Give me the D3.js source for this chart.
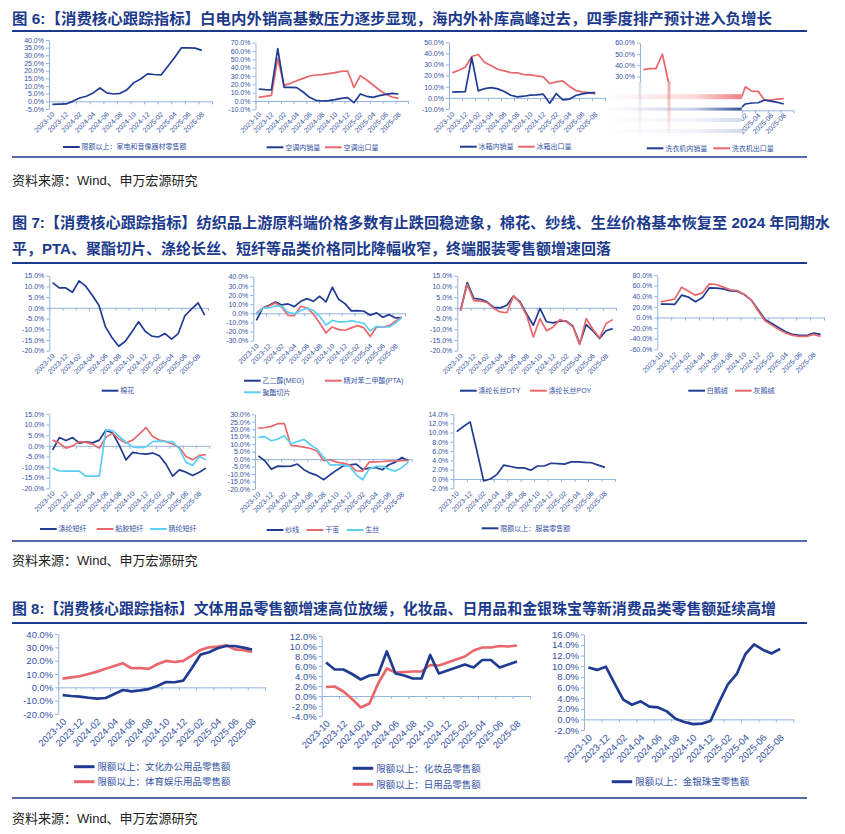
<!DOCTYPE html>
<html><head><meta charset="utf-8">
<script src="https://cdn.jsdelivr.net/npm/d3@7"></script>
<style>
body{margin:0;background:#fff}
text{font-family:"Liberation Sans",Arial,"Noto Sans CJK SC",sans-serif}
</style>
</head><body>
<svg id="c" width="845" height="834"></svg>
<script>
// ---------- categories ----------
const months = ["2023-10","2023-11","2023-12","2024-01","2024-02","2024-03","2024-04","2024-05","2024-06","2024-07","2024-08","2024-09","2024-10","2024-11","2024-12","2025-01","2025-02","2025-03","2025-04","2025-05","2025-06","2025-07","2025-08","2025-09"];

// ---------- Figure 6 ----------
const appliance = [-2.0,-1.8,-1.7,0.0,2.2,3.3,5.5,8.7,5.5,4.8,5.2,7.6,12.2,14.6,17.9,17.5,17.2,22.9,28.6,34.9,34.9,34.7,33.2];
const acDomestic = [14.4,13.6,13.2,63,16.4,16.4,16,10.8,4.4,0.8,0,0.4,1.6,3.2,4,-2,8.4,5.6,4.4,6.4,8,9.2,8.4];
const acExport = [4.4,5.6,6.8,51,18.8,21.2,24.4,27.2,30,31.2,31.6,32.8,34,35.6,36,16.4,30.4,25.2,19.2,13.2,8,4.8,3.2];
const fridgeDomestic = [5.1,5.4,5.7,36.3,6.3,8.4,9.3,8.1,5.7,2.4,0.9,1.5,2.4,2.7,3.3,-4.8,3.9,-1.8,-1.2,2.1,3.6,4.5,4.8];
const fridgeExport = [22.5,24.9,27.6,37.2,39,31.8,28.8,25.8,24.3,22.8,22.5,21,20.7,19.8,18.9,12.9,14.4,15.3,10.5,6.6,5.4,4.8,3.6];
const washerDomestic = [8,6,5,18,4,6,8,7,5,3,2,4,6,5,4,0.5,5.6,6.5,6.7,9.1,8.2,7.1,5.6];
const washerExport = [36,37,37,50,24,14,18,16,12,15,20,18,14,16,12,5.6,20.9,17,16.8,9.1,9.1,10,10.3];

// ---------- Figure 7 ----------
const cotton = [11.8,9.3,9.3,7.3,12.6,10.1,5.9,1.2,-8.9,-14,-17.9,-15.6,-11.2,-6.5,-10.9,-13.2,-13.6,-12,-14.6,-12,-3.7,-0.6,2.3,-3.4];
const meg = [-7.7,5.8,8.8,12.4,9.1,10.2,7.3,13.1,16,13.1,18.6,12.4,28.5,15.3,10.6,2.6,2.9,2.2,-2.2,0.4,-4.4,-1.5,-5.1,-4.7];
const pta = [0,5.8,8,11.3,6.6,-2.2,-2.6,7.7,5.8,-0.7,-10.6,-21.5,-15,-17.9,-18.6,-16,-13.5,-16,-25.5,-15,-15,-13.5,-8.8,-4.4];
const polyChip = [-1.5,5.5,5.8,8,7.7,1.1,-0.7,2.9,5.5,3.3,-3.3,-12.8,-7.7,-9.5,-9.5,-8,-9.5,-10.9,-19.3,-14.2,-15,-15,-10.6,-4.7];
const dty = [-1.1,11.8,4.4,4,2.8,0.2,0,1.2,5.5,2.8,-3,-8.1,-0.3,-6.5,-7,-6.2,-6.2,-8.6,-16.7,-7.8,-10.7,-14.3,-10.7,-9.7];
const poy = [-1.4,10.9,3.4,3.1,2.5,-0.3,-1.9,-2.3,5.6,2.3,-3.7,-13.6,-5,-10.7,-8.9,-5.5,-6.5,-8.9,-17.1,-5,-10,-14,-7.3,-5.5];
const whiteDown = [25.1,25.1,24.5,42,38.2,29.5,37.6,55.8,55.2,53.9,50.2,49.5,43.3,33.2,15,-3.8,-11.3,-19.4,-27,-32,-33.9,-33.9,-29.5,-32];
const greyDown = [29.5,32,34.5,57.1,49.5,42,46.4,63.3,62.1,57.1,52,50.8,43.9,33.2,12.5,-6.3,-14.4,-22.6,-29.5,-33.9,-35.7,-35.7,-32,-35.7];
const psf = [-1.9,3.9,2.5,3.9,1.3,1.9,1.4,2.7,7.5,6,0.2,-6.6,-3.1,-3.6,-3.9,-3.4,-4.7,-8.6,-14.3,-11.3,-12.4,-14,-12.4,-10.5];
const viscose = [2.7,1.3,-1.1,0,2,1.6,0.8,-1.1,4.1,6,3.1,1.3,2.7,5.5,8.6,4.4,2.7,2,0.9,-0.8,-5,-6.6,-4.5,-4.2];
const acrylic = [-10.5,-11.8,-11.9,-11.9,-11.9,-14.3,-14.3,-14.3,7.5,7.2,4.4,1.7,-0.5,-0.8,-0.5,2,2.2,2,2,-1.4,-7.7,-9.2,-5,-6.6];
const yarn = [2.2,-1.1,-6.7,-4.7,-4.9,-4.7,-3.3,-7.1,-9.4,-10.9,-13.8,-10.5,-7.4,-4.5,-3.8,-3.3,-6.9,-6,-5.6,-7.1,-3.8,-2,1.1,-1.1];
const cocoon = [20.8,21,21.9,23.7,23.7,9.2,8.7,8,7.1,5.4,-1.1,-0.4,-2,-2.7,-3.8,-7.8,-8,-2,-1.8,-1.6,-1.3,-1.1,-1.1,-0.9];
const rawSilk = [14.5,15,12.3,13.4,15.6,10.3,11.8,13.2,9.6,6.7,1.3,-3.8,-3.8,-3.8,-4.9,-10.5,-13.8,-6.5,-4.9,-4.9,-6.7,-8,-5.6,-2];
const apparel = [10.2,11.3,12.3,6.1,-0.4,0,1,3,2.7,2.4,2.4,1.9,2.8,2.8,3.4,3.3,3.2,3.7,3.7,3.6,3.5,3,2.5];

// ---------- Figure 8 ----------
const office = [-5.8,-6.5,-7,-7.8,-8.5,-8,-5,-2,-3,-2.3,-1.3,1,4,3.8,5,14.3,24.5,26.3,29.3,31,31,29.8,28.3];
const sports = [6.5,7.5,8.3,10,11.8,14,16,18,14.3,14.5,13.8,17.3,19.8,19,19.8,23.8,28,30,30.5,31.5,28.5,27.8,26.5];
const cosmetics = [6.7,5.3,5.3,4.4,3.3,4.1,4.3,8.9,4.5,4.1,3.5,3.5,8.2,4.5,5.1,5.7,6.3,5.7,7.2,7.2,5.7,6.3,6.9];
const daily = [1.8,1.9,0.9,-0.6,-2.3,-1.5,2.5,5.5,4.7,4.8,4.9,4.9,6.2,6.1,6.7,7.3,7.9,9.1,9.7,9.7,10,9.9,10.1];
const jewelry = [9.75,9.3,9.9,6.75,3.7,2.75,3.4,2.4,2.25,1.5,0.1,-0.5,-0.9,-0.8,-0.3,3.25,6.6,8.5,12.25,14.1,13.1,12.4,13.25];

// ---------- titles ----------
const titles = [
  {t:"图 6:【消费核心跟踪指标】白电内外销高基数压力逐步显现，海内外补库高峰过去，四季度排产预计进入负增长", y:24, w:760},
  {t:"图 7:【消费核心跟踪指标】纺织品上游原料端价格多数有止跌回稳迹象，棉花、纱线、生丝价格基本恢复至 2024 年同期水", y:228, w:818},
  {t:"平，PTA、聚酯切片、涤纶长丝、短纤等品类价格同比降幅收窄，终端服装零售额增速回落", y:254, w:599},
  {t:"图 8:【消费核心跟踪指标】文体用品零售额增速高位放缓，化妆品、日用品和金银珠宝等新消费品类零售额延续高增", y:614, w:764}
];
const sourceText = "资料来源：Wind、申万宏源研究";

const NAVY='#1f3c92', RED='#e9676b', CYAN='#5ccff4', AXIS='#93b3e0', TXT='#3352a3', TITLE='#1b3a8c';
const svg = d3.select('#c');

titles.forEach(d=>{
  svg.append('text').attr('x',12).attr('y',d.y).attr('font-size',15).attr('font-weight','bold')
    .attr('fill',TITLE).attr('textLength',d.w).attr('lengthAdjust','spacingAndGlyphs').text(d.t);
});
[31, 263, 623].forEach(y=>svg.append('line').attr('x1',12).attr('x2',807).attr('y1',y).attr('y2',y).attr('stroke',TITLE).attr('stroke-width',2));
[157, 541, 798].forEach(y=>svg.append('line').attr('x1',12).attr('x2',807).attr('y1',y).attr('y2',y).attr('stroke',TITLE).attr('stroke-width',1.6));
[185, 565, 823].forEach(y=>svg.append('text').attr('x',12).attr('y',y).attr('font-size',13).attr('fill','#222').text(sourceText));

const small = {fs:7, lw:1.7, llen:16.7, lgap:1.8, lsw:2, lx:1, ly:4};
const big = {fs:9.5, lw:2.7, llen:20.5, lgap:3, lsw:3, lx:2, ly:6};

const charts = [
  Object.assign({ax:49, ae:212, yd:[-5,40], yr:[109,40], step:5,
    series:[{d:appliance,c:NAVY}], legend:[{x:63,y:147,c:NAVY,t:"限额以上：家电和音像器材零售额"}]}, small),
  Object.assign({ax:255.5, ae:408, yd:[-10,70], yr:[109.3,42.7], step:10,
    series:[{d:acExport,c:RED},{d:acDomestic,c:NAVY}],
    legend:[{x:266.7,y:147.3,c:NAVY,t:"空调内销量"},{x:325,y:147.3,c:RED,t:"空调出口量"}]}, small),
  Object.assign({ax:449, ae:605, yd:[-10,50], yr:[109,42.3], step:10,
    series:[{d:fridgeExport,c:RED},{d:fridgeDomestic,c:NAVY}],
    legend:[{x:460,y:146.7,c:NAVY,t:"冰箱内销量"},{x:518,y:146.7,c:RED,t:"冰箱出口量"}]}, small),
  Object.assign({ax:640, ae:793.3, yd:[0,60], yr:[110.3,42.7], step:10, cover:true,
    series:[{d:washerExport,c:RED},{d:washerDomestic,c:NAVY}],
    legend:[{x:646.7,y:148.3,c:NAVY,t:"洗衣机内销量"},{x:713.3,y:148.3,c:RED,t:"洗衣机出口量"}]}, small),

  Object.assign({ax:49.3, ae:208, yd:[-20,15], yr:[350.7,275.7], step:5,
    series:[{d:cotton,c:NAVY}], legend:[{x:101.7,y:390.7,c:NAVY,t:"棉花"}]}, small),
  Object.assign({ax:253.3, ae:405, yd:[-30,40], yr:[340.7,276.7], step:10,
    series:[{d:meg,c:NAVY},{d:pta,c:RED},{d:polyChip,c:CYAN}],
    legend:[{x:244,y:380.7,c:NAVY,t:"乙二醇(MEG)"},{x:325,y:380.7,c:RED,t:"精对苯二甲酸(PTA)"},{x:244,y:392.3,c:CYAN,t:"聚酯切片"}]}, small),
  Object.assign({ax:457.3, ae:616, yd:[-20,15], yr:[350.7,275.7], step:5,
    series:[{d:dty,c:NAVY},{d:poy,c:RED}],
    legend:[{x:460,y:390.7,c:NAVY,t:"涤纶长丝DTY"},{x:530,y:390.7,c:RED,t:"涤纶长丝POY"}]}, small),
  Object.assign({ax:657.3, ae:824, yd:[-60,80], yr:[349.3,275], step:20,
    series:[{d:whiteDown,c:NAVY},{d:greyDown,c:RED}],
    legend:[{x:688.3,y:390.7,c:NAVY,t:"白鹅绒"},{x:735,y:390.7,c:RED,t:"灰鹅绒"}]}, small),

  Object.assign({ax:49.3, ae:209.3, yd:[-20,15], yr:[488.3,414], step:5,
    series:[{d:psf,c:NAVY},{d:viscose,c:RED},{d:acrylic,c:CYAN}],
    legend:[{x:40,y:529,c:NAVY,t:"涤纶短纤"},{x:96.7,y:529,c:RED,t:"粘胶短纤"},{x:150,y:529,c:CYAN,t:"腈纶短纤"}]}, small),
  Object.assign({ax:255, ae:411.7, yd:[-20,30], yr:[489,414.3], step:5,
    series:[{d:yarn,c:NAVY},{d:cocoon,c:RED},{d:rawSilk,c:CYAN}],
    legend:[{x:266.7,y:530,c:NAVY,t:"纱线"},{x:306.7,y:530,c:RED,t:"干茧"},{x:346.7,y:530,c:CYAN,t:"生丝"}]}, small),
  Object.assign({ax:453.3, ae:615, yd:[-2,14], yr:[488.3,414], step:2,
    series:[{d:apparel,c:NAVY}], legend:[{x:481.7,y:528.3,c:NAVY,t:"限额以上：服装零售额"}]}, small),

  Object.assign({ax:58.3, ae:265, yd:[-20,40], yr:[714,634], step:10,
    series:[{d:sports,c:RED},{d:office,c:NAVY}],
    legend:[{x:74,y:766.7,c:NAVY,t:"限额以上：文化办公用品零售额"},{x:74,y:781.7,c:RED,t:"限额以上：体育娱乐用品零售额"}]}, big),
  Object.assign({ax:321.7, ae:530, yd:[-4,12], yr:[716,636], step:2,
    series:[{d:daily,c:RED},{d:cosmetics,c:NAVY}],
    legend:[{x:352.7,y:768.3,c:NAVY,t:"限额以上：化妆品零售额"},{x:352.7,y:784.3,c:RED,t:"限额以上：日用品零售额"}]}, big),
  Object.assign({ax:584, ae:793.3, yd:[-2,16], yr:[730,634.3], step:2,
    series:[{d:jewelry,c:NAVY}], legend:[{x:611.7,y:781.7,c:NAVY,t:"限额以上：金银珠宝零售额"}]}, big)
];

const defs = svg.append('defs');

function drawChart(cfg){
  const g = svg.append('g');
  const x = d3.scaleLinear().domain([-0.5, months.length-0.5]).range([cfg.ax, cfg.ae]);
  const y = d3.scaleLinear().domain(cfg.yd).range(cfg.yr);
  const ticks = d3.range(cfg.yd[0], cfg.yd[1]+cfg.step/2, cfg.step);
  const ya = g.append('g').attr('transform',`translate(${cfg.ax},0)`)
    .call(d3.axisLeft(y).tickValues(ticks).tickFormat(d=>d.toFixed(1)+'%').tickSize(3).tickSizeOuter(0).tickPadding(2));
  ya.select('.domain').attr('stroke',AXIS);
  ya.selectAll('.tick line').attr('stroke',AXIS);
  ya.selectAll('.tick text').attr('fill',TXT).attr('font-size',cfg.fs).attr('font-family',null);
  const y0 = y(Math.max(cfg.yd[0],0));
  const xa = g.append('g').attr('transform',`translate(0,${y0})`)
    .call(d3.axisBottom(x).tickValues(d3.range(-0.5, months.length, 2)).tickFormat('').tickSize(3).tickSizeOuter(0));
  xa.select('.domain').attr('stroke',AXIS);
  xa.selectAll('.tick line').attr('stroke',AXIS);
  const yb = y(cfg.yd[0]);
  const lab = months.map((m,i)=>({m,i})).filter(d=>d.i%2===0 && d.i<=22);
  g.selectAll('text.xl').data(lab).join('text').attr('class','xl')
    .attr('transform',d=>`translate(${x(d.i)+cfg.lx},${yb+cfg.ly}) rotate(-45)`)
    .attr('text-anchor','end').attr('dy','0.35em').attr('font-size',cfg.fs).attr('fill',TXT).text(d=>d.m);
  const line = d3.line().x((d,i)=>x(i)).y(d=>y(d));
  cfg.series.forEach(s=>{
    g.append('path').attr('d',line(s.d)).attr('fill','none').attr('stroke',s.c)
      .attr('stroke-width',cfg.lw).attr('stroke-linejoin','round');
  });
  cfg.legend.forEach(l=>{
    g.append('line').attr('x1',l.x).attr('x2',l.x+cfg.llen).attr('y1',l.y).attr('y2',l.y)
      .attr('stroke',l.c).attr('stroke-width',cfg.lsw);
    g.append('text').attr('x',l.x+cfg.llen+cfg.lgap).attr('y',l.y).attr('dy','0.35em')
      .attr('font-size',cfg.fs).attr('fill',TXT).text(l.t);
  });
  if(cfg.cover) drawCover();
}

function hgrad(id,color,mid,end){
  const gr=defs.append('linearGradient').attr('id',id).attr('x1',0).attr('x2',1).attr('y1',0).attr('y2',0);
  gr.append('stop').attr('offset',0).attr('stop-color',color).attr('stop-opacity',0);
  gr.append('stop').attr('offset',0.65).attr('stop-color',color).attr('stop-opacity',mid);
  gr.append('stop').attr('offset',1).attr('stop-color',color).attr('stop-opacity',end);
}
function vgrad(id,color,top){
  const gr=defs.append('linearGradient').attr('id',id).attr('x1',0).attr('x2',0).attr('y1',0).attr('y2',1);
  gr.append('stop').attr('offset',0).attr('stop-color',color).attr('stop-opacity',top);
  gr.append('stop').attr('offset',1).attr('stop-color',color).attr('stop-opacity',0);
}
function drawCover(){
  const g = svg.append('g');
  g.append('rect').attr('x',610).attr('y',82).attr('width',131.7).attr('height',58).attr('fill','#fff');
  hgrad('gRed',RED,0.25,0.85); hgrad('gNavy',NAVY,0.25,0.9); hgrad('gGrey','#9fb0d6',0.15,0.45);
  vgrad('vGrey','#b8c6e4',0.55); vgrad('vRed',RED,0.6);
  g.append('rect').attr('x',606).attr('y',94.2).attr('width',135.7).attr('height',5).attr('fill','url(#gRed)');
  g.append('rect').attr('x',606).attr('y',107.6).attr('width',135.7).attr('height',3).attr('fill','url(#gNavy)');
  g.append('rect').attr('x',606).attr('y',118).attr('width',135.7).attr('height',4).attr('fill','url(#gGrey)');
  g.append('rect').attr('x',606).attr('y',129).attr('width',135.7).attr('height',4).attr('fill','url(#gGrey)');
  g.append('rect').attr('x',638.5).attr('y',82).attr('width',3).attr('height',56).attr('fill','url(#vGrey)');
  g.append('rect').attr('x',667.5).attr('y',82).attr('width',3).attr('height',56).attr('fill','url(#vRed)');
}

charts.forEach(drawChart);
</script>
</body></html>
